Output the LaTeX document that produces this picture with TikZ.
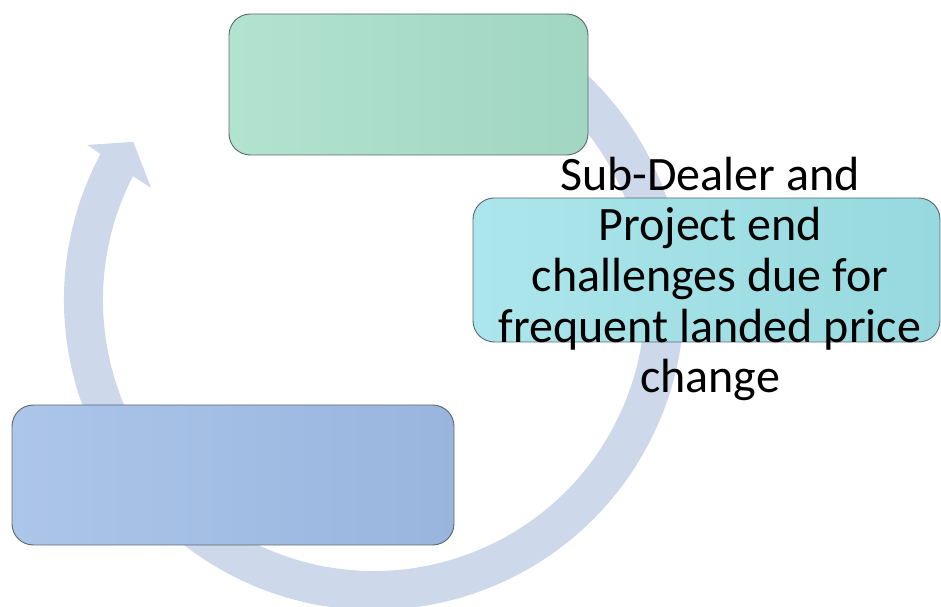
\documentclass[tikz,border=0pt]{standalone}
\usepackage{fontspec}
\setmainfont{Carlito}
\usetikzlibrary{fit}

\definecolor{cyclearc}{RGB}{205,216,234}
\definecolor{boxline}{RGB}{95,105,112}
\definecolor{greenA}{RGB}{178,227,208}
\definecolor{greenB}{RGB}{160,214,194}
\definecolor{cyanA}{RGB}{172,230,236}
\definecolor{cyanB}{RGB}{150,217,222}
\definecolor{blueA}{RGB}{172,197,233}
\definecolor{blueB}{RGB}{153,181,222}

\begin{document}
\begin{tikzpicture}[x=0.75pt,y=0.75pt,
	stagebox/.style={draw=boxline, line width=0.7pt, rounded corners=16pt, inner sep=0pt}]
\useasboundingbox (0,0) rectangle (941,606);

% the cycle arrow, open at the top
\begin{scope}[shift={(374,306)}]
	\fill [cyclearc] (60:310) arc [start angle=60, end angle=-208.1, radius=310]
		-- (-208.4:326) -- (-213.3:288) -- (-206.7:249.5) -- (-207.2:271)
		arc [start angle=-207.2, end angle=60, radius=271] -- cycle;
\end{scope}

\node [stagebox, left color=greenA, right color=greenB, fit={(229,451) (588,592)}] (top) {};
\node [stagebox, left color=cyanA, right color=cyanB, fit={(473,264) (940,408)}] (right) {};
\node [stagebox, left color=blueA, right color=blueB, fit={(12,61) (454,201)}] (left) {};

\node [align=center, font=\fontsize{36}{38}\selectfont] (rightlabel) at (710,327)
	{Sub-Dealer and\\Project end\\challenges due for\\frequent landed price\\change};
\end{tikzpicture}
\end{document}
